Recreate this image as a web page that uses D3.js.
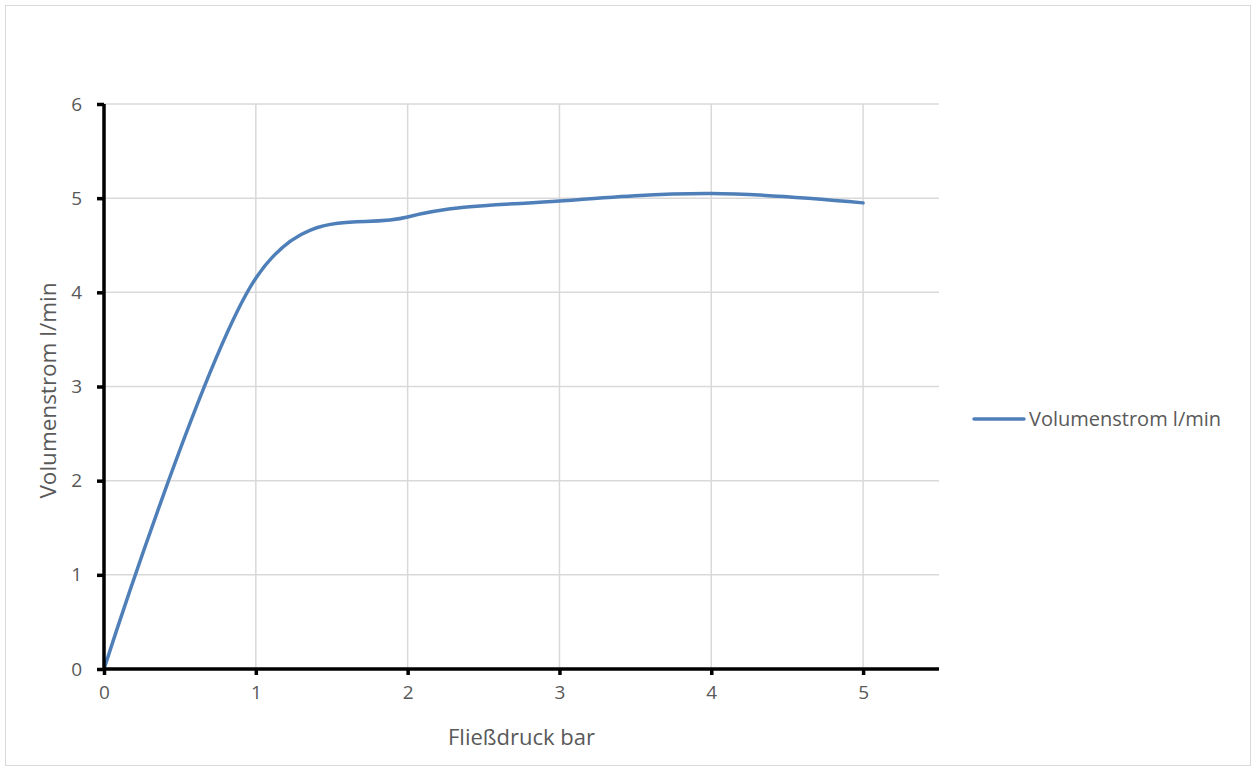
<!DOCTYPE html>
<html><head><meta charset="utf-8">
<script src="https://cdn.jsdelivr.net/npm/d3@7"></script>
<style>
html,body{margin:0;padding:0;background:#fff;}
svg text{font-family:"Open Sans","Liberation Sans",sans-serif;fill:#595959;}
</style></head>
<body>
<svg id="chart" width="1257" height="771"></svg>
<script>
const xValues = [0, 1, 2, 3, 4, 5];
const yValues = [0, 4.15, 4.8, 4.97, 5.05, 4.95];
const xTicks = [0, 1, 2, 3, 4, 5];
const yTicks = [0, 1, 2, 3, 4, 5, 6];
const seriesName = "Volumenstrom l/min";
const xTitle = "Fließdruck bar";
const yTitle = "Volumenstrom l/min";

const svg = d3.select("#chart");
svg.append("rect").attr("x",5.5).attr("y",5.5).attr("width",1245).attr("height",760)
  .attr("fill","#fff").attr("stroke","#d9d9d9").attr("stroke-width",1);

const L=104, R=939, T=104, B=669;
const x = d3.scaleLinear().domain([0,5.5]).range([L,R]);
const y = d3.scaleLinear().domain([0,6]).range([B,T]);

const g = svg.append("g");
g.selectAll(".hg").data(yTicks.filter(d=>d>0)).enter().append("line")
  .attr("x1",L).attr("x2",R).attr("y1",d=>y(d)).attr("y2",d=>y(d))
  .attr("stroke","#d9d9d9").attr("stroke-width",1.5);
g.selectAll(".vg").data(xTicks.filter(d=>d>0)).enter().append("line")
  .attr("x1",d=>x(d)).attr("x2",d=>x(d)).attr("y1",T).attr("y2",B)
  .attr("stroke","#d9d9d9").attr("stroke-width",1.5);

const line = d3.line().x((d,i)=>x(xValues[i])).y(d=>y(d)).curve(d3.curveCatmullRom.alpha(0));
g.append("path").datum(yValues).attr("d",line).attr("fill","none")
  .attr("stroke","#4f7fb8").attr("stroke-width",3.5).attr("stroke-linecap","round");

const xAxis = d3.axisBottom(x).tickValues(xTicks).tickSize(6).tickPadding(11).tickFormat(d3.format("d"));
const yAxis = d3.axisLeft(y).tickValues(yTicks).tickSize(7).tickPadding(15).tickFormat(d3.format("d"));
const gx = svg.append("g").attr("transform",`translate(0,${B})`).call(xAxis);
const gy = svg.append("g").attr("transform",`translate(${L},0)`).call(yAxis);
[gx,gy].forEach(a=>{
  a.attr("font-size",19).attr("font-family",'"Open Sans","Liberation Sans",sans-serif');
  a.select(".domain").attr("stroke","#000").attr("stroke-width",3.5);
  a.selectAll(".tick line").attr("stroke","#000").attr("stroke-width",3.5);
  a.selectAll(".tick text").attr("fill","#595959").style("font-size","19px");
});
gx.select(".domain").attr("d",`M${L},0H${R}`);
gy.select(".domain").attr("d",`M0,${B}V${T}`);

svg.append("text").attr("x",(L+R)/2).attr("y",745).attr("text-anchor","middle")
  .style("font-size","22px").text(xTitle);
svg.append("text").attr("transform",`translate(56,${(T+B)/2 + 4}) rotate(-90)`).attr("text-anchor","middle")
  .style("font-size","22.5px").text(yTitle);

svg.append("line").attr("x1",974).attr("x2",1024).attr("y1",419).attr("y2",419)
  .attr("stroke","#4f7fb8").attr("stroke-width",3.5).attr("stroke-linecap","round");
svg.append("text").attr("x",1029).attr("y",426).style("font-size","20px").text(seriesName);
</script>
</body></html>
